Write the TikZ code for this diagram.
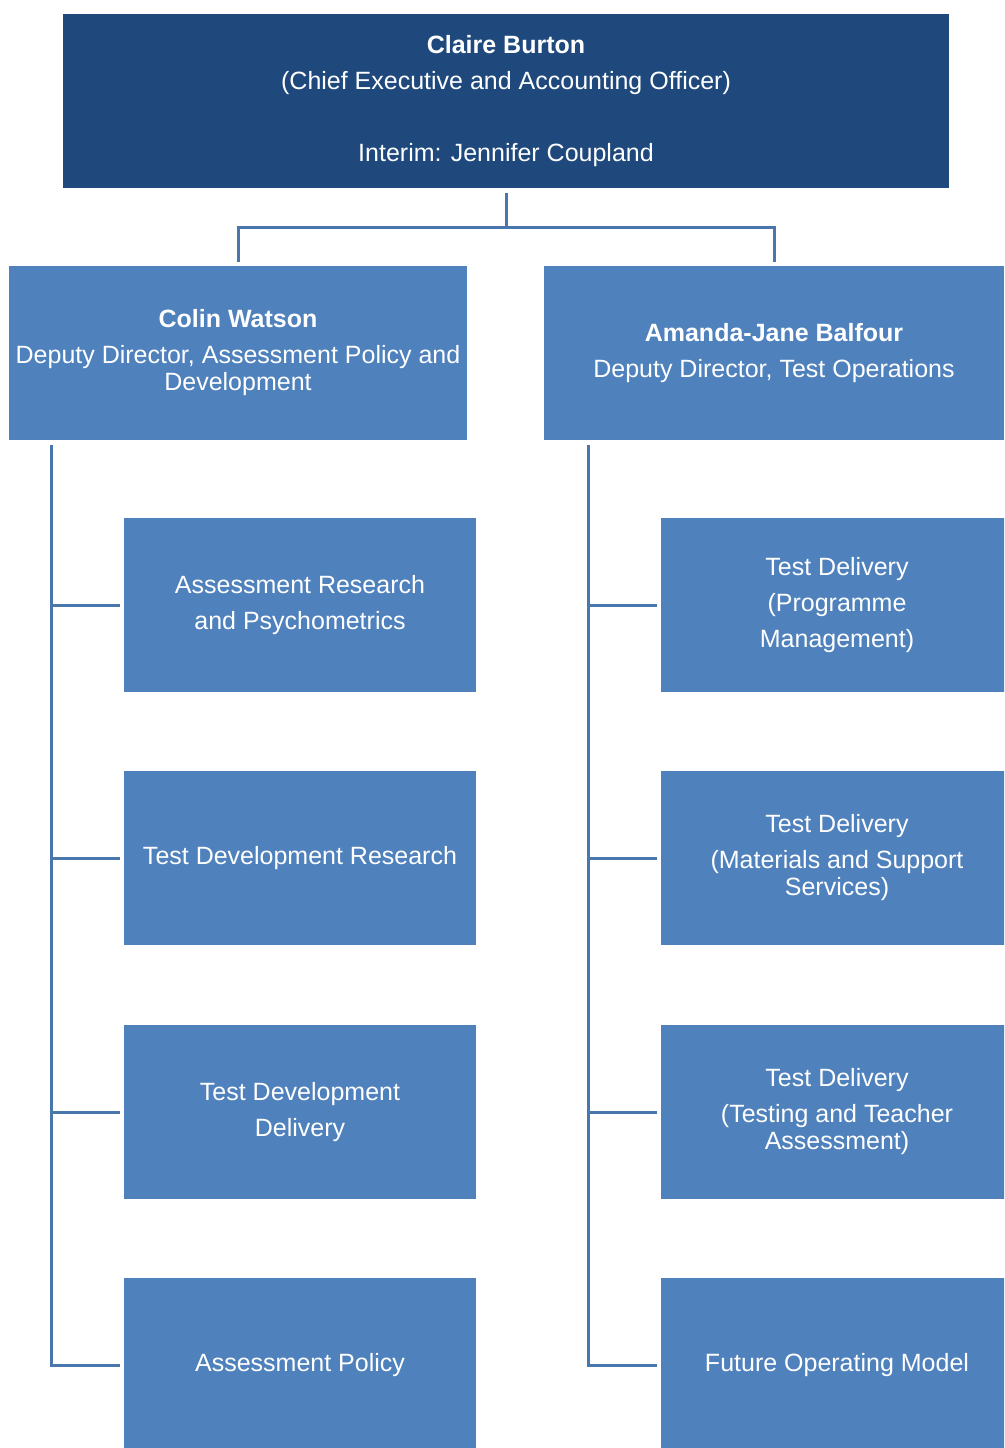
\documentclass[tikz,border=0pt]{standalone}
\usepackage{fontspec}
\setmainfont{Liberation Sans}
\usetikzlibrary{positioning, calc}

\definecolor{ceoblue}{HTML}{1F497D}
\definecolor{unitblue}{HTML}{4F81BD}
\definecolor{linkblue}{HTML}{4A76AE}

\tikzset{
    orgbox/.style={rectangle, fill=unitblue, text=white, inner sep=0pt, align=center,
        minimum height=174pt, font=\fontsize{25}{27}\selectfont},
    teambox/.style={orgbox, minimum width=352pt},
    link/.style={draw=linkblue, line width=3pt}
}

\begin{document}
\begin{tikzpicture}[x=1pt, y=-1pt]
    \path[use as bounding box, clip] (0,0) rectangle (1004,1448);

    % Top of the chart
    \node[orgbox, fill=ceoblue, minimum width=886pt] (ceo) at (506,101)
        {\textbf{Claire Burton}\\[9pt](Chief Executive and Accounting Officer)\\[45pt]Interim: Jennifer Coupland};

    % Deputy directors
    \node[orgbox, minimum width=458pt] (colin) at (238,353)
        {\textbf{Colin Watson}\\[9pt]Deputy Director, Assessment Policy and\\Development};
    \node[orgbox, minimum width=460pt] (amanda) at (774,353)
        {\textbf{Amanda-Jane Balfour}\\[9pt]Deputy Director, Test Operations};

    % Teams under Colin Watson
    \node[teambox] (arp) at (300,605) {Assessment Research\\[9pt]and Psychometrics};
    \node[teambox] (tdr) at (300,858) {Test Development Research};
    \node[teambox] (tdd) at (300,1112) {Test Development\\[9pt]Delivery};
    \node[teambox] (ap)  at (300,1365) {Assessment Policy};

    % Teams under Amanda-Jane Balfour
    \node[teambox] (tdpm) at (837,605) {Test Delivery\\[9pt](Programme\\[9pt]Management)};
    \node[teambox] (tdms) at (837,858) {Test Delivery\\[9pt](Materials and Support\\Services)};
    \node[teambox] (tdta) at (837,1112) {Test Delivery\\[9pt](Testing and Teacher\\Assessment)};
    \node[teambox] (fom)  at (837,1365) {Future Operating Model};

    % Links from the top box
    \foreach \d in {colin,amanda} {
        \draw[link, shorten <=5pt, shorten >=4pt] (ceo.south) -- ++(0,39) -| (\d.north);
    }

    % Spines down the left side of each group
    \coordinate (lspine) at ([shift={(43,5)}]colin.south west);
    \coordinate (rspine) at ([shift={(45,5)}]amanda.south west);
    \foreach \t in {arp,tdr,tdd,ap} {
        \draw[link, shorten >=4pt] (lspine) |- (\t.west);
    }
    \foreach \t in {tdpm,tdms,tdta,fom} {
        \draw[link, shorten >=4pt] (rspine) |- (\t.west);
    }
\end{tikzpicture}
\end{document}
